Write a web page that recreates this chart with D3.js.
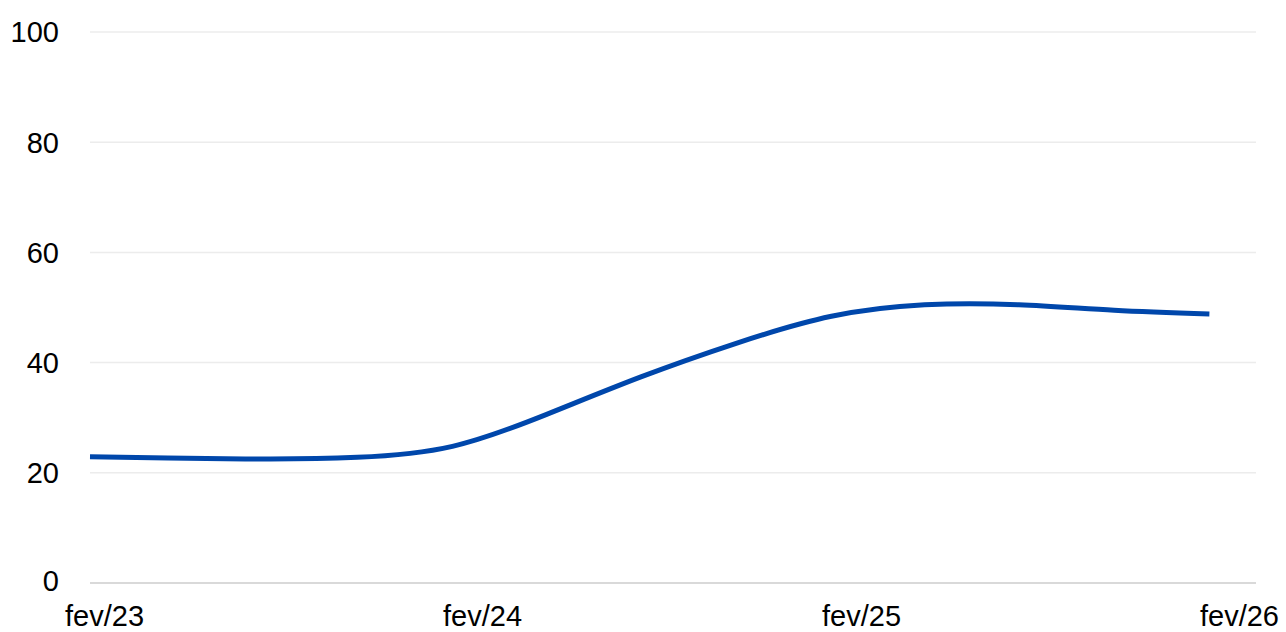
<!DOCTYPE html>
<html>
<head>
<meta charset="utf-8">
<script src="https://cdn.jsdelivr.net/npm/d3@7"></script>
<style>
  body { margin: 0; background: #fff; }
  text { font-family: "Liberation Sans", Arial, sans-serif; }
</style>
</head>
<body>
<div id="viz"></div>
<script>
const dates = ["2023-01-16", "2023-04-01", "2023-07-01", "2023-10-01", "2024-01-01", "2024-04-01",
  "2024-07-01", "2024-10-01", "2025-01-01", "2025-04-01", "2025-07-01", "2025-10-01", "2026-01-01"];
const values = [22.9, 22.7, 22.5, 22.8, 24.8, 30.6, 37.4, 43.5, 48.4, 50.5, 50.5, 49.5, 48.8];
const yTicks = [0, 20, 40, 60, 80, 100];
const xTicks = ["2023-02-01", "2024-02-01", "2025-02-01", "2026-02-01"];
const xTickLabels = ["fev/23", "fev/24", "fev/25", "fev/26"];

const width = 1286;
const height = 632;
const parse = d3.timeParse("%Y-%m-%d");

const svg = d3.select("#viz").append("svg")
  .attr("width", width)
  .attr("height", height);

const x = d3.scaleTime()
  .domain([parse("2023-01-16"), parse("2026-02-15")])
  .range([90, 1256]);

const y = d3.scaleLinear()
  .domain([0, 100])
  .range([583, 32]);

// grid
svg.append("g")
  .selectAll("line")
  .data(yTicks)
  .enter()
  .append("line")
  .attr("x1", 90)
  .attr("x2", 1256)
  .attr("y1", d => y(d))
  .attr("y2", d => y(d))
  .attr("stroke", d => d === 0 ? "#d9d9d9" : "#ececec")
  .attr("stroke-width", d => d === 0 ? 2 : 1.5);

// y labels
svg.append("g")
  .selectAll("text")
  .data(yTicks)
  .enter()
  .append("text")
  .attr("x", 59)
  .attr("y", d => d === 0 ? y(d) - 2 : y(d))
  .attr("dy", "0.36em")
  .attr("text-anchor", "end")
  .attr("font-size", 29)
  .attr("fill", "#000")
  .text(d => d);

// x labels
svg.append("g")
  .selectAll("text")
  .data(xTicks)
  .enter()
  .append("text")
  .attr("x", d => x(parse(d)) - 2)
  .attr("y", 616)
  .attr("dy", "0.36em")
  .attr("text-anchor", "middle")
  .attr("font-size", 29)
  .attr("fill", "#000")
  .text((d, i) => xTickLabels[i]);

const data = dates.map((d, i) => ({ date: parse(d), value: values[i] }));

const line = d3.line()
  .x(d => x(d.date))
  .y(d => y(d.value))
  .curve(d3.curveNatural);

svg.append("path")
  .datum(data)
  .attr("d", line)
  .attr("fill", "none")
  .attr("stroke", "#0047ab")
  .attr("stroke-width", 5);
</script>
</body>
</html>
